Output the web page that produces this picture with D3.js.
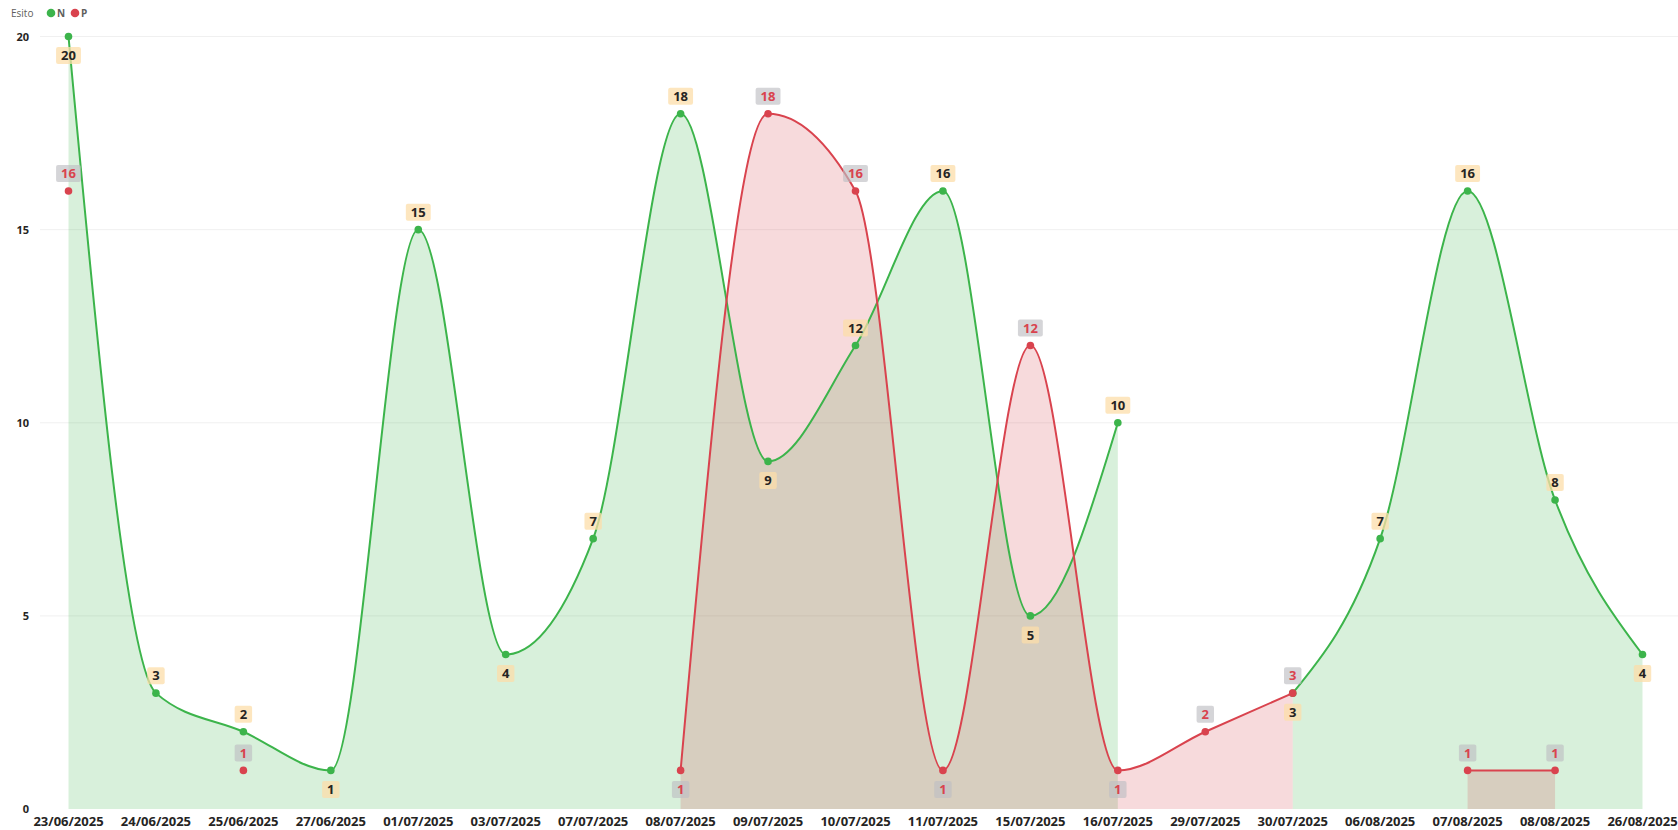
<!DOCTYPE html>
<meta charset="utf-8">
<head>
  <style>
    body {
      margin: 0;
      background: #fff;
      font-family: "Open Sans", sans-serif;
    }
    .tick-x {
      font-size: 13px;
      font-weight: 700;
      fill: #252423;
    }
    .tick-y {
      font-size: 11px;
      font-weight: 700;
      fill: #252423;
    }
    .grid line {
      stroke: #f0f0f0;
      stroke-width: 1px;
    }
    .dlabel {
      font-size: 13px;
      font-weight: 700;
    }
  </style>
</head>
<body>
  <script src="https://d3js.org/d3.v7.min.js"></script>
  <script>
    const dates = ["23/06/2025", "24/06/2025", "25/06/2025", "27/06/2025", "01/07/2025",
      "03/07/2025", "07/07/2025", "08/07/2025", "09/07/2025", "10/07/2025", "11/07/2025",
      "15/07/2025", "16/07/2025", "29/07/2025", "30/07/2025", "06/08/2025", "07/08/2025",
      "08/08/2025", "26/08/2025"];

    const seriesN = [20, 3, 2, 1, 15, 4, 7, 18, 9, 12, 16, 5, 10, null, 3, 7, 16, 8, 4];
    const seriesP = [16, null, 1, null, null, null, null, 1, 18, 16, 1, 12, 1, 2, 3, null, 1, 1, null];

    const yTicks = [0, 5, 10, 15, 20];

    const width = 1678, height = 830;

    const svg = d3.select("body").append("svg")
      .attr("width", width)
      .attr("height", height);

    const x = d3.scalePoint().domain(dates).range([68.5, 1642.5]);
    const y = d3.scaleLinear().domain([0, 20]).range([809, 36.5]);

    // legend
    const legend = svg.append("g").attr("transform", "translate(11,13)");
    legend.append("text").attr("y", 3.8).attr("font-size", 10).attr("fill", "#605e5c").text("Esito");
    legend.append("circle").attr("cx", 40).attr("cy", 0).attr("r", 4.3).attr("fill", "#3cb44b");
    legend.append("text").attr("x", 46).attr("y", 3.8).attr("font-size", 10).attr("font-weight", 700).attr("fill", "#605e5c").text("N");
    legend.append("circle").attr("cx", 64).attr("cy", 0).attr("r", 4.3).attr("fill", "#d9434e");
    legend.append("text").attr("x", 70).attr("y", 3.8).attr("font-size", 10).attr("font-weight", 700).attr("fill", "#605e5c").text("P");

    // grid + y ticks
    svg.append("g").attr("class", "grid")
      .selectAll("line").data(yTicks.filter(t => t > 0)).join("line")
      .attr("x1", 40).attr("x2", width)
      .attr("y1", d => y(d)).attr("y2", d => y(d));

    svg.append("g").selectAll("text").data(yTicks).join("text")
      .attr("class", "tick-y")
      .attr("x", 29).attr("y", d => y(d) + 4)
      .attr("text-anchor", "end")
      .text(d => d);

    svg.append("g").selectAll("text").data(dates).join("text")
      .attr("class", "tick-x")
      .attr("x", d => x(d)).attr("y", 826)
      .attr("text-anchor", "middle")
      .text(d => d);

    const series = [
      { name: "N", values: seriesN, color: "#3cb44b", fill: "rgba(60,180,75,0.2)",
        labelBg: "rgba(252,222,170,0.75)", labelColor: "#252423" },
      { name: "P", values: seriesP, color: "#d9434e", fill: "rgba(214,69,80,0.2)",
        labelBg: "rgba(190,190,195,0.65)", labelColor: "#d9434e" }
    ];

    const pts = s => s.values.map((v, i) => ({ date: dates[i], v, i }));

    const area = d3.area()
      .defined(d => d.v != null)
      .curve(d3.curveMonotoneX)
      .x(d => x(d.date))
      .y0(y(0))
      .y1(d => y(d.v));

    const line = d3.line()
      .defined(d => d.v != null)
      .curve(d3.curveMonotoneX)
      .x(d => x(d.date))
      .y(d => y(d.v));

    series.forEach(s => {
      svg.append("path").datum(pts(s)).attr("d", area).attr("fill", s.fill);
    });

    series.forEach(s => {
      svg.append("path").datum(pts(s)).attr("d", line)
        .attr("fill", "none").attr("stroke", s.color).attr("stroke-width", 2);
      svg.append("g").selectAll("circle").data(pts(s).filter(d => d.v != null)).join("circle")
        .attr("cx", d => x(d.date)).attr("cy", d => y(d.v)).attr("r", 3.8)
        .attr("fill", s.color);
    });

    // label goes below a point that is a dip (lower than its neighbours) or at the axis top
    function below(vals, i) {
      const v = vals[i];
      if (v >= 20) return true;
      const nb = [vals[i - 1], vals[i + 1]].filter(n => n != null);
      return nb.length > 0 && nb.every(n => v < n);
    }

    series.forEach(s => {
      const g = svg.append("g");
      pts(s).filter(d => d.v != null).forEach(d => {
        const cy = y(d.v) + (below(s.values, d.i) ? 19 : -17.5);
        const lg = g.append("g").attr("transform", `translate(${x(d.date)},${cy})`);
        const rect = lg.append("rect");
        const t = lg.append("text").attr("class", "dlabel")
          .attr("text-anchor", "middle").attr("y", 4.8)
          .attr("fill", s.labelColor).text(d.v);
        const w = t.node().getComputedTextLength() + 10;
        rect.attr("x", -w / 2).attr("y", -8.5).attr("width", w).attr("height", 17)
          .attr("rx", 2).attr("fill", s.labelBg);
      });
    });
  </script>
</body>
